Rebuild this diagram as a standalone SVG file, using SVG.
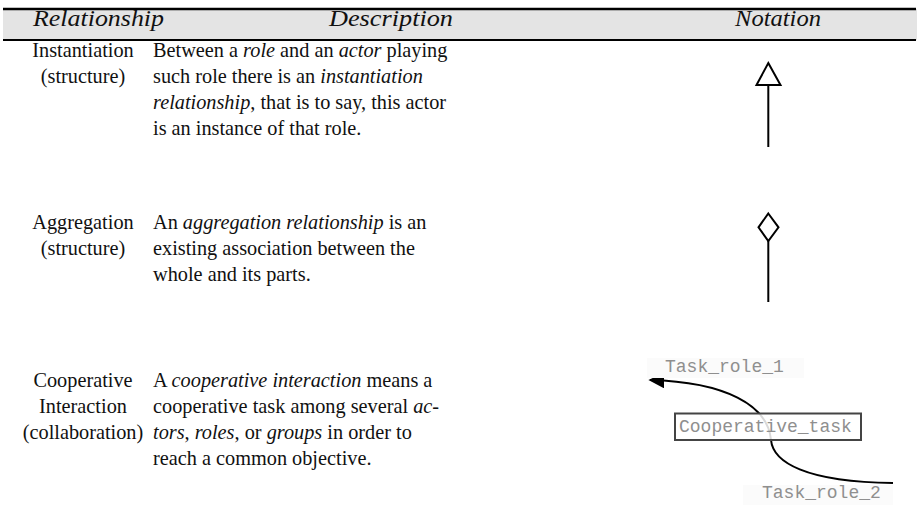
<svg xmlns="http://www.w3.org/2000/svg" width="918" height="526" viewBox="0 0 918 526">
  <defs>
    <style>
      .hd { font-family: "Liberation Serif", "Times New Roman", serif; font-style: italic; font-size: 23px; fill: #111; text-anchor: middle; }
      .tx { font-family: "Liberation Serif", "Times New Roman", serif; font-size: 20.3px; fill: #111; }
      .rel { text-anchor: middle; }
      .it { font-style: italic; }
      .mono { font-family: "Liberation Mono", "Courier New", monospace; font-size: 18px; fill: #8f8f8f; }
      .sym { fill: #fff; stroke: #000; stroke-width: 2; }
      .ln { fill: none; stroke: #000; stroke-width: 2; }
      .lbl { fill: #fbfbfb; }
    </style>
    <marker id="head" viewBox="0 0 10 10" refX="9" refY="5" markerWidth="8" markerHeight="8" markerUnits="strokeWidth" orient="auto">
      <path d="M0 0 L10 5 L0 10 Z" fill="#000"/>
    </marker>
  </defs>

  <rect width="918" height="526" fill="#fff"/>

  <!-- table header -->
  <g id="header">
    <rect x="3" y="9" width="914" height="31" fill="#e4e4e4"/>
    <line x1="3" y1="9" x2="916" y2="9" stroke="#000" stroke-width="2.5"/>
    <line x1="3" y1="40" x2="916" y2="40" stroke="#000" stroke-width="2"/>
    <text class="hd" x="98.5" y="26" textLength="131" lengthAdjust="spacingAndGlyphs">Relationship</text>
    <text class="hd" x="391" y="26" textLength="124" lengthAdjust="spacingAndGlyphs">Description</text>
    <text class="hd" x="778" y="26" textLength="86" lengthAdjust="spacingAndGlyphs">Notation</text>
  </g>

  <!-- row: instantiation -->
  <g id="row-instantiation">
    <text class="tx rel" x="83" y="57">Instantiation</text>
    <text class="tx rel" x="83" y="83">(structure)</text>
    <text class="tx" x="153" y="57">Between a <tspan class="it">role</tspan> and an <tspan class="it">actor</tspan> playing</text>
    <text class="tx" x="153" y="83">such role there is an <tspan class="it">instantiation</tspan></text>
    <text class="tx" x="153" y="109"><tspan class="it">relationship</tspan>, that is to say, this actor</text>
    <text class="tx" x="153" y="135">is an instance of that role.</text>
  </g>

  <!-- row: aggregation -->
  <g id="row-aggregation">
    <text class="tx rel" x="83" y="229">Aggregation</text>
    <text class="tx rel" x="83" y="255">(structure)</text>
    <text class="tx" x="153" y="229">An <tspan class="it">aggregation relationship</tspan> is an</text>
    <text class="tx" x="153" y="255">existing association between the</text>
    <text class="tx" x="153" y="281">whole and its parts.</text>
  </g>

  <!-- row: cooperative interaction -->
  <g id="row-cooperative">
    <text class="tx rel" x="83" y="387">Cooperative</text>
    <text class="tx rel" x="83" y="413">Interaction</text>
    <text class="tx rel" x="83" y="439">(collaboration)</text>
    <text class="tx" x="153" y="387">A <tspan class="it">cooperative interaction</tspan> means a</text>
    <text class="tx" x="153" y="413">cooperative task among several <tspan class="it">ac-</tspan></text>
    <text class="tx" x="153" y="439"><tspan class="it">tors</tspan>, <tspan class="it">roles</tspan>, or <tspan class="it">groups</tspan> in order to</text>
    <text class="tx" x="153" y="465">reach a common objective.</text>
  </g>

  <!-- notation: instantiation arrow -->
  <g id="notation-instantiation">
    <line class="ln" x1="768.3" y1="85" x2="768.3" y2="147"/>
    <path class="sym" d="M768.3 63 L780.5 85 L756.5 85 Z"/>
  </g>

  <!-- notation: aggregation diamond -->
  <g id="notation-aggregation">
    <line class="ln" x1="768.3" y1="241" x2="768.3" y2="302"/>
    <path class="sym" d="M768.3 213.5 L778.5 227.3 L768.3 241 L758.5 227.3 Z"/>
  </g>

  <!-- notation: cooperative interaction -->
  <g id="connectors">
    <path class="ln" d="M893 483 C 805 482 773 462 771 440 C 768 405 725 382 650 380" marker-end="url(#head)"/>
  </g>
  <g id="task-role-1">
    <rect class="lbl" x="647" y="358" width="157" height="20"/>
    <text class="mono" x="665" y="372">Task_role_1</text>
  </g>
  <g id="cooperative-task">
    <rect x="675" y="413.5" width="186" height="26.5" fill="#fff" fill-opacity="0.85" stroke="#444" stroke-width="2"/>
    <text class="mono" x="679" y="432">Cooperative_task</text>
  </g>
  <g id="task-role-2">
    <rect class="lbl" x="743" y="485" width="150" height="20"/>
    <text class="mono" x="762" y="498">Task_role_2</text>
  </g>
</svg>
